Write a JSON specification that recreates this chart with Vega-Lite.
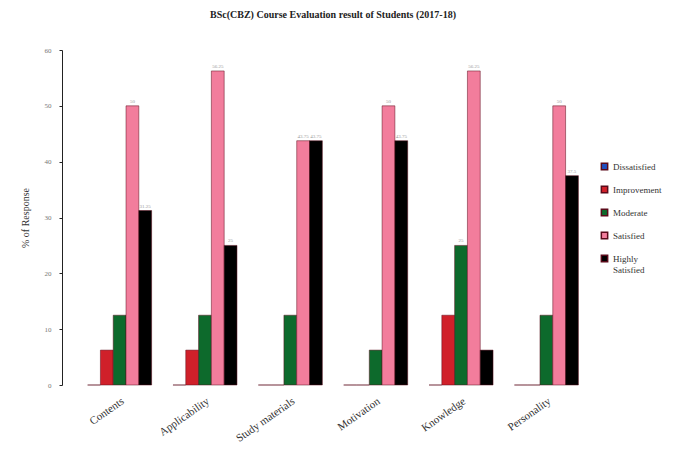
{
  "$schema": "https://vega.github.io/schema/vega-lite/v6.json",
  "autosize": {"type": "none"},
  "padding": {"left": 62, "top": 50, "right": 88, "bottom": 75},
  "width": 542,
  "height": 335,
  "background": "white",
  "view": {"stroke": null},
  "title": {
    "text": "BSc(CBZ) Course Evaluation result of Students (2017-18)",
    "font": "Liberation Serif",
    "fontSize": 10,
    "fontWeight": "bold",
    "color": "#222",
    "offset": 26,
    "anchor": "middle"
  },
  "data": {
    "values": [
      {"aspect": "Contents", "response": "Dissatisfied", "pct": 0},
      {"aspect": "Contents", "response": "Improvement", "pct": 6.25},
      {"aspect": "Contents", "response": "Moderate", "pct": 12.5},
      {"aspect": "Contents", "response": "Satisfied", "pct": 50},
      {"aspect": "Contents", "response": "Highly Satisfied", "pct": 31.25},
      {"aspect": "Applicability", "response": "Dissatisfied", "pct": 0},
      {"aspect": "Applicability", "response": "Improvement", "pct": 6.25},
      {"aspect": "Applicability", "response": "Moderate", "pct": 12.5},
      {"aspect": "Applicability", "response": "Satisfied", "pct": 56.25},
      {"aspect": "Applicability", "response": "Highly Satisfied", "pct": 25},
      {"aspect": "Study materials", "response": "Dissatisfied", "pct": 0},
      {"aspect": "Study materials", "response": "Improvement", "pct": 0},
      {"aspect": "Study materials", "response": "Moderate", "pct": 12.5},
      {"aspect": "Study materials", "response": "Satisfied", "pct": 43.75},
      {"aspect": "Study materials", "response": "Highly Satisfied", "pct": 43.75},
      {"aspect": "Motivation", "response": "Dissatisfied", "pct": 0},
      {"aspect": "Motivation", "response": "Improvement", "pct": 0},
      {"aspect": "Motivation", "response": "Moderate", "pct": 6.25},
      {"aspect": "Motivation", "response": "Satisfied", "pct": 50},
      {"aspect": "Motivation", "response": "Highly Satisfied", "pct": 43.75},
      {"aspect": "Knowledge", "response": "Dissatisfied", "pct": 0},
      {"aspect": "Knowledge", "response": "Improvement", "pct": 12.5},
      {"aspect": "Knowledge", "response": "Moderate", "pct": 25},
      {"aspect": "Knowledge", "response": "Satisfied", "pct": 56.25},
      {"aspect": "Knowledge", "response": "Highly Satisfied", "pct": 6.25},
      {"aspect": "Personality", "response": "Dissatisfied", "pct": 0},
      {"aspect": "Personality", "response": "Improvement", "pct": 0},
      {"aspect": "Personality", "response": "Moderate", "pct": 12.5},
      {"aspect": "Personality", "response": "Satisfied", "pct": 50},
      {"aspect": "Personality", "response": "Highly Satisfied", "pct": 37.5}
    ]
  },
  "encoding": {
    "x": {
      "field": "aspect",
      "type": "nominal",
      "sort": null,
      "scale": {"paddingInner": 0.25, "paddingOuter": 0.3},
      "axis": {
        "title": null,
        "domain": false,
        "ticks": false,
        "labelAngle": -35,
        "labelFont": "Liberation Serif",
        "labelFontSize": 11,
        "labelColor": "#333",
        "labelPadding": 10
      }
    },
    "xOffset": {
      "field": "response",
      "type": "nominal",
      "sort": ["Dissatisfied", "Improvement", "Moderate", "Satisfied", "Highly Satisfied"]
    },
    "y": {
      "field": "pct",
      "type": "quantitative",
      "scale": {"domain": [0, 60]},
      "axis": {
        "title": "% of Response",
        "titleFont": "Liberation Serif",
        "titleFontSize": 10,
        "titleFontWeight": "normal",
        "titleColor": "#333",
        "titlePadding": 14,
        "values": [0, 10, 20, 30, 40, 50, 60],
        "grid": false,
        "domainColor": "#222",
        "tickColor": "#222",
        "tickSize": 3,
        "labelFont": "Liberation Serif",
        "labelFontSize": 7,
        "labelColor": "#777",
        "labelPadding": 8
      }
    }
  },
  "layer": [
    {
      "mark": {"type": "bar", "stroke": "#5a0a1a", "strokeWidth": 0.5},
      "encoding": {
        "color": {
          "field": "response",
          "type": "nominal",
          "sort": ["Dissatisfied", "Improvement", "Moderate", "Satisfied", "Highly Satisfied"],
          "scale": {
            "domain": ["Dissatisfied", "Improvement", "Moderate", "Satisfied", "Highly Satisfied"],
            "range": ["#1f4fc0", "#d0202a", "#0d6a2c", "#f27d9c", "#000000"]
          },
          "legend": {
            "title": null,
            "orient": "none",
            "legendX": 538,
            "legendY": 112,
            "symbolType": "square",
            "symbolSize": 40,
            "rowPadding": 10,
            "labelFont": "Liberation Serif",
            "labelFontSize": 9,
            "labelColor": "#333",
            "labelExpr": "datum.label == 'Highly Satisfied' ? ['Highly', 'Satisfied'] : datum.label"
          }
        }
      }
    },
    {
      "transform": [{"filter": "datum.pct >= 25 || datum.response == 'Satisfied'"}],
      "mark": {"type": "text", "dy": -5, "fontSize": 5, "font": "Liberation Serif", "color": "#999"},
      "encoding": {
        "text": {"field": "pct", "type": "quantitative", "format": ".4~f"}
      }
    }
  ]
}
